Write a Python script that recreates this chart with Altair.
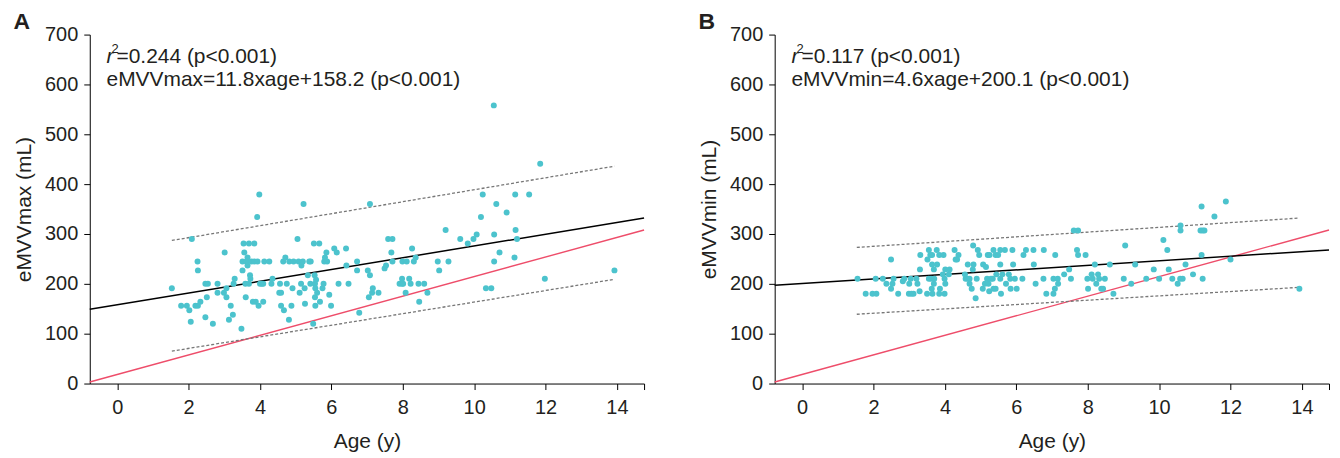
import altair as alt
import pandas as pd

FONT = "Liberation Sans"
TEAL = "#4cc3cd"
RED = "#ee4d6a"
GRAY = "#777777"
INK = "#231f20"

# ---------------- data ----------------
age_a = [1.53, 1.79, 1.95, 2.02, 2.06, 2.09, 2.19, 2.26, 2.25, 2.26, 2.33, 2.47, 2.47, 2.54, 2.51, 2.68,
         2.81, 2.81, 2.99, 3.01, 3.06, 3.06, 3.13, 3.18, 3.24, 3.26, 3.29, 3.48, 3.51, 3.51, 3.54, 3.56,
         3.59, 3.60, 3.62, 3.65, 3.65, 3.69, 3.69, 3.72, 3.73, 3.76, 3.84, 3.84, 3.80, 3.88, 3.92, 3.93,
         3.96, 3.98, 4.00, 4.05, 4.09, 4.09, 4.12, 4.26, 4.32, 4.35, 4.54, 4.56, 4.59, 4.59, 4.65, 4.67,
         4.71, 4.75, 4.81, 4.82, 4.88, 4.91, 4.94, 5.05, 5.08, 5.11, 5.15, 5.16, 5.20, 5.22, 5.25, 5.26,
         5.34, 5.38, 5.41, 5.42, 5.49, 5.51, 5.53, 5.54, 5.54, 5.55, 5.55, 5.57, 5.60, 5.66, 5.68, 5.75,
         5.78, 5.80, 5.82, 5.86, 5.88, 5.94, 5.99, 6.08, 6.15, 6.20, 6.41, 6.42, 6.48, 6.72, 6.72, 6.78,
         7.02, 7.05, 7.08, 7.08, 7.14, 7.16, 7.32, 7.49, 7.53, 7.59, 7.71, 7.68, 7.71, 7.91, 7.98, 7.98,
         7.99, 8.01, 8.08, 8.11, 8.18, 8.22, 8.26, 8.31, 8.36, 8.44, 8.46, 8.60, 8.69, 8.98, 9.02, 9.20,
         9.28, 9.61, 9.82, 9.98, 10.07, 10.19, 10.24, 10.33, 10.48, 10.55, 10.56, 10.56, 10.62, 10.71,
         10.91, 11.13, 11.15, 11.16, 11.20, 11.54, 11.85, 11.98, 13.93]
mvv_a = [191, 156, 156, 147, 124, 290, 156, 156, 245, 227, 164, 133, 200, 200, 173, 120,
         200, 182, 182, 263, 191, 173, 128, 156, 138, 200, 210, 110, 227, 245, 281, 263,
         200, 173, 245, 237, 253, 281, 200, 217, 210, 245, 281, 245, 164, 164, 334, 245,
         156, 379, 200, 200, 164, 200, 245, 245, 200, 210, 182, 200, 182, 156, 245, 147,
         253, 200, 128, 245, 156, 191, 245, 290, 245, 182, 200, 237, 245, 360, 191, 160,
         217, 245, 200, 245, 120, 281, 217, 200, 173, 156, 191, 208, 182, 281, 164, 191,
         200, 245, 253, 263, 245, 178, 156, 271, 263, 200, 271, 237, 200, 245, 227, 142,
         227, 173, 360, 217, 182, 191, 182, 231, 237, 290, 290, 263, 245, 200, 200, 210,
         245, 200, 182, 245, 210, 200, 271, 245, 253, 200, 164, 200, 182, 245, 227, 308,
         245, 290, 281, 290, 299, 334, 379, 191, 191, 558, 299, 245, 360, 263,
         343, 253, 379, 308, 290, 379, 441, 210, 227]

age_b = [1.55, 1.78, 1.97, 2.08, 2.06, 2.26, 2.36, 2.49, 2.49, 2.53, 2.56, 2.69, 2.82, 2.86, 2.99, 3.06,
         3.12, 3.04, 3.00, 3.20, 3.23, 3.31, 3.30, 3.29, 3.50, 3.51, 3.55, 3.55, 3.61, 3.59, 3.64, 3.64,
         3.65, 3.63, 3.69, 3.69, 3.70, 3.77, 3.78, 3.84, 3.96, 3.84, 3.86, 3.94, 3.99, 3.99, 4.01, 4.01,
         4.13, 4.11, 4.27, 4.30, 4.34, 4.38, 4.56, 4.58, 4.64, 4.69, 4.64, 4.69, 4.75, 4.78, 4.79, 4.80,
         4.86, 4.89, 4.92, 4.96, 5.06, 5.07, 5.15, 5.12, 5.18, 5.20, 5.25, 5.22, 5.24, 5.29, 5.34, 5.36,
         5.36, 5.42, 5.42, 5.44, 5.49, 5.55, 5.68, 5.55, 5.55, 5.57, 5.61, 5.71, 5.79, 5.83, 5.84, 5.89,
         5.91, 5.96, 6.01, 6.17, 6.20, 6.27, 6.48, 6.49, 6.54, 6.76, 6.77, 6.84, 7.04, 7.16, 7.04, 7.08,
         7.09, 7.17, 7.34, 7.48, 7.53, 7.61, 7.73, 7.70, 7.73, 7.94, 7.99, 8.14, 8.01, 8.11, 8.20, 8.24,
         8.29, 8.32, 8.38, 8.43, 8.48, 8.62, 8.72, 9.01, 9.05, 9.22, 9.33, 9.64, 9.85, 10.00, 10.12,
         10.23, 10.27, 10.37, 10.52, 10.60, 10.60, 10.59, 10.66, 10.74, 10.95, 11.19, 11.16, 11.22,
         11.27, 11.19, 11.22, 11.55, 11.87, 12.00, 13.93]
mvv_b = [210, 180, 180, 180, 210, 210, 200, 249, 190, 200, 210, 180, 205, 210, 180, 180,
         180, 210, 200, 210, 200, 258, 229, 185, 180, 249, 268, 210, 210, 258, 258, 239,
         180, 190, 229, 200, 210, 268, 239, 258, 258, 180, 190, 219, 180, 210, 229, 200,
         229, 219, 268, 249, 249, 258, 219, 210, 210, 210, 239, 200, 190, 229, 277, 239,
         171, 210, 268, 258, 190, 239, 234, 200, 210, 258, 258, 200, 185, 210, 210, 268,
         190, 190, 258, 219, 258, 268, 268, 239, 210, 180, 219, 200, 219, 210, 190, 268,
         239, 210, 190, 210, 258, 268, 268, 239, 200, 210, 268, 180, 210, 210, 180, 190,
         258, 200, 219, 229, 210, 307, 307, 268, 258, 258, 210, 210, 190, 219, 239, 200,
         219, 210, 190, 190, 210, 239, 180, 210, 277, 200, 239, 210, 229, 210, 288,
         268, 229, 210, 200, 317, 307, 210, 210, 239, 219, 355, 307, 307,
         307, 258, 210, 335, 365, 249, 190]

x_domain = [-0.77, 14.76]
y_domain = [0, 700]
x_ticks = [0, 2, 4, 6, 8, 10, 12, 14, 14.76]
y_ticks = [0, 100, 200, 300, 400, 500, 600, 700]

fit_x = [-0.77, 14.76]
fit_a_y = [149, 332]
fit_b_y = [197, 268]
red_x = [-0.77, 14.76]
red_y = [3, 308]
band_x = [1.53, 13.93]
band_a_upper = [287, 436]
band_a_lower = [65, 209]
band_b_upper = [273, 332]
band_b_lower = [139, 193]

r2_a = "=0.244 (p<0.001)"
eq_a = "eMVVmax=11.8xage+158.2 (p<0.001)"
r2_b = "=0.117 (p<0.001)"
eq_b = "eMVVmin=4.6xage+200.1 (p<0.001)"
text_x = -0.3
text_y = [643, 597]


def panel(letter, ylabel, ages, vals, fit_y, up, lo, r2_text, eq_text):
    xs = alt.Scale(domain=x_domain, nice=False, zero=False)
    ys = alt.Scale(domain=y_domain, nice=False, zero=False)
    xax = alt.Axis(values=x_ticks, labelExpr="datum.value > 14.5 ? '' : datum.label",
                   title="Age (y)", grid=False)
    yax = alt.Axis(values=y_ticks, title=ylabel, grid=False)

    def X(f):
        return alt.X(f, type="quantitative", scale=xs, axis=xax)

    def Y(f):
        return alt.Y(f, type="quantitative", scale=ys, axis=yax)

    pts = alt.Chart(pd.DataFrame({"age": ages, "v": vals})).mark_circle(
        size=36, color=TEAL, opacity=1).encode(x=X("age"), y=Y("v"))

    red = alt.Chart(pd.DataFrame({"age": red_x, "v": red_y})).mark_line(
        color=RED, strokeWidth=1.4).encode(x=X("age"), y=Y("v"))

    fit = alt.Chart(pd.DataFrame({"age": fit_x, "v": fit_y})).mark_line(
        color="black", strokeWidth=1.5).encode(x=X("age"), y=Y("v"))

    band_df = pd.DataFrame({"age": band_x + band_x, "v": up + lo,
                            "s": ["u", "u", "l", "l"]})
    band = alt.Chart(band_df).mark_line(
        color=GRAY, strokeWidth=1.3, strokeDash=[3, 2]).encode(
        x=X("age"), y=Y("v"), detail="s:N")

    t_df = pd.DataFrame({"age": [text_x], "v": [text_y[0]]})
    t_r = alt.Chart(t_df).mark_text(text="r", fontStyle="italic", fontSize=21, font=FONT,
                                    align="left", baseline="alphabetic", color=INK).encode(
        x=X("age"), y=Y("v"))
    t_2 = alt.Chart(t_df).mark_text(text="2", fontSize=13, font=FONT, dx=5, dy=-10,
                                    align="left", baseline="alphabetic", color=INK).encode(
        x=X("age"), y=Y("v"))
    t_rest = alt.Chart(t_df).mark_text(text=r2_text, fontSize=21, font=FONT, dx=10,
                                       align="left", baseline="alphabetic", color=INK).encode(
        x=X("age"), y=Y("v"))
    t_eq = alt.Chart(pd.DataFrame({"age": [text_x], "v": [text_y[1]]})).mark_text(
        text=eq_text, fontSize=21, font=FONT, align="left", baseline="alphabetic",
        color=INK).encode(x=X("age"), y=Y("v"))

    return alt.layer(red, fit, band, pts, t_r, t_2, t_rest, t_eq).properties(
        width=556, height=350,
        title=alt.TitleParams(letter, anchor="start", frame="bounds", fontSize=23,
                              fontWeight="bold", font=FONT, color=INK, offset=-9))


a = panel("A", "eMVVmax (mL)", age_a, mvv_a, fit_a_y, band_a_upper, band_a_lower, r2_a, eq_a)
b = panel("B", "eMVVmin (mL)", age_b, mvv_b, fit_b_y, band_b_upper, band_b_lower, r2_b, eq_b)

chart = alt.hconcat(a, b, spacing=51).properties(
    padding={"left": 5, "top": 2, "right": 0, "bottom": 0}
).configure_view(strokeWidth=0).configure_axis(
    domainColor="black", domainWidth=1, tickColor="black", tickWidth=1, tickSize=6,
    labelFont=FONT, labelFontSize=20, labelColor=INK, labelPadding=6,
    titleFont=FONT, titleFontSize=21, titleColor=INK, titleFontWeight="normal",
    titlePadding=10,
).configure_axisX(labelPadding=8, titlePadding=13)

chart.save("out.html", embed_options={"renderer": "svg", "actions": False})
